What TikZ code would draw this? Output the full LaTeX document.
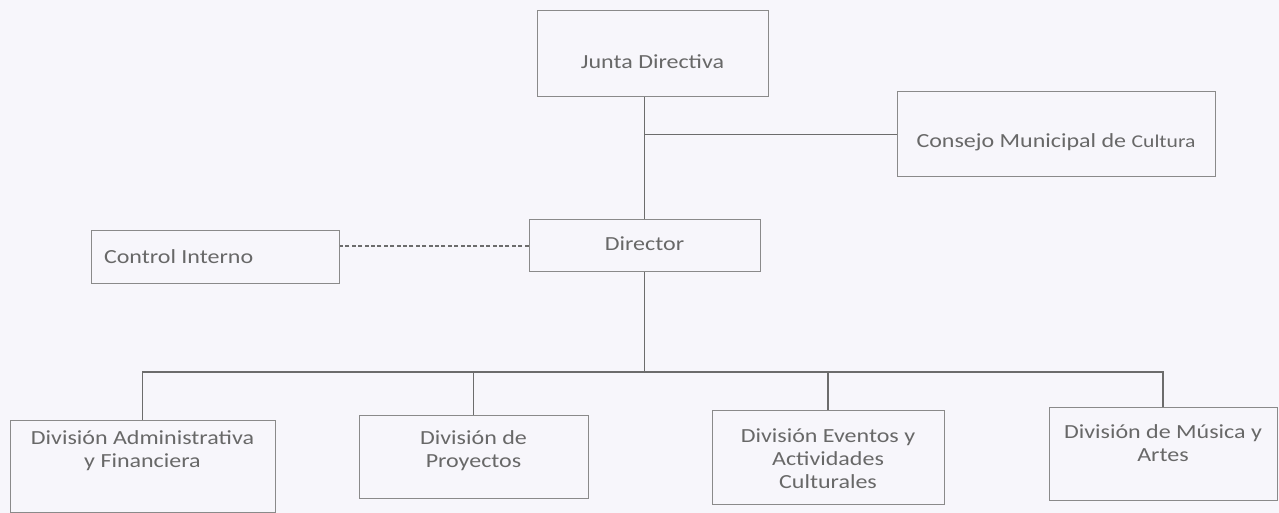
\documentclass[tikz,border=0pt]{standalone}
\usepackage{fontspec}
\setmainfont{Carlito}[FakeStretch=1.2]
\definecolor{bgc}{HTML}{F7F6FB}
\definecolor{boxc}{HTML}{8A8A8A}
\definecolor{linec}{HTML}{6C6C6C}
\definecolor{txtc}{HTML}{686868}
\newcommand\orgfont{\fontsize{10pt}{11.5pt}\selectfont}
\newcommand\bxt[2]{\raisebox{#1}[0pt][0pt]{\begin{tabular}{@{}c@{}}#2\end{tabular}}}
\tikzset{
  orgbox/.style={draw=boxc, line width=0.5pt, rectangle, inner sep=0pt, text=txtc, font=\orgfont},
  link/.style={draw=linec, line width=0.75pt},
  dashlink/.style={draw=linec, line width=0.75pt, dash pattern=on 2pt off 1.2pt}
}
\begin{document}
\begin{tikzpicture}[x=0.5pt,y=-0.5pt]
\fill[bgc] (0,0) rectangle (1279,513);
\useasboundingbox (0,0) rectangle (1279,513);

\node[orgbox, minimum width=115.5pt, minimum height=43pt] (junta) at (652.5,54) {\bxt{-7.5pt}{Junta Directiva}};
\node[orgbox, minimum width=159pt, minimum height=42.5pt] (consejo) at (1056,134.5) {\bxt{-6.5pt}{Consejo Municipal de {\fontsize{9pt}{11pt}\selectfont Cultura}}};
\node[orgbox, minimum width=115.5pt, minimum height=26pt] (dir) at (644.5,246) {\bxt{-2.5pt}{Director}};
\node[orgbox, minimum width=124pt, minimum height=26pt] (ci) at (215,257) {\makebox[111pt][l]{Control Interno}};

\node[orgbox, minimum width=132.5pt, minimum height=46pt] (b1) at (142.5,466) {\bxt{4.6pt}{División Administrativa\\y Financiera}};
\node[orgbox, minimum width=114.5pt, minimum height=41.5pt] (b2) at (473.5,456.5) {\bxt{0.1pt}{División de\\Proyectos}};
\node[orgbox, minimum width=116pt, minimum height=47pt] (b3) at (828,457) {\bxt{-4.4pt}{División Eventos y\\Actividades\\Culturales}};
\node[orgbox, minimum width=114pt, minimum height=46.5pt] (b4) at (1163,453.5) {\bxt{1.6pt}{División de Música y\\Artes}};

\coordinate (bus) at (0,372);

\draw[link] (dir.north) -- (dir.north |- junta.south);
\draw[link] (consejo.west) -- (consejo.west -| dir.north);
\draw[dashlink] (dir.west) -- (dir.west -| ci.east);
\draw[link] (dir.south) -- (dir.south |- bus);
\draw[link] (b1.north) -- (b1.north |- bus) -- (b4.north |- bus) -- (b4.north);
\draw[link] (b2.north) -- (b2.north |- bus);
\draw[link] (b3.north) -- (b3.north |- bus);
\end{tikzpicture}
\end{document}
